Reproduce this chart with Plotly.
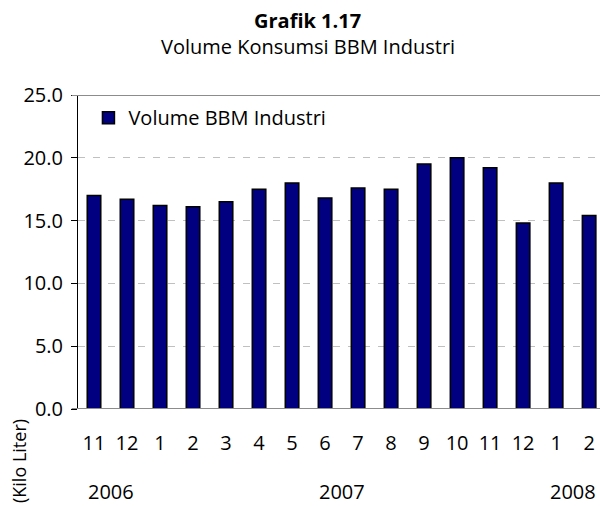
import plotly.graph_objects as go

# Monthly industrial fuel consumption, Nov 2006 - Feb 2008
months = ["11", "12", "1", "2", "3", "4", "5", "6", "7", "8", "9", "10", "11", "12", "1", "2"]
years = ["2006", "2007", "2008"]
year_centers = [0.5, 7.5, 14.5]
volume = [17.0, 16.7, 16.2, 16.1, 16.5, 17.5, 18.0, 16.8, 17.6, 17.5, 19.5, 20.0, 19.2, 14.8, 18.0, 15.4]
series_name = "Volume BBM Industri"
chart_title = "Grafik 1.17"
chart_subtitle = "Volume Konsumsi BBM Industri"
unit_label = "(Kilo Liter)"

FONT = "Open Sans"
FS = 20
x_pos = list(range(len(months)))

fig = go.Figure()
fig.add_trace(go.Bar(
    x=x_pos, y=volume, name=series_name, width=0.41,
    marker=dict(color="#000080", line=dict(color="#000000", width=1.5)),
    showlegend=True,
))

# title block above the plot
fig.add_annotation(x=0.44, y=1.2357, xref="paper", yref="paper", text=f"<b>{chart_title}</b>",
                   showarrow=False, xanchor="center", yanchor="middle",
                   font=dict(family=FONT, size=FS, color="#000000"))
fig.add_annotation(x=0.44, y=1.156, xref="paper", yref="paper", text=chart_subtitle,
                   showarrow=False, xanchor="center", yanchor="middle",
                   font=dict(family=FONT, size=FS, color="#000000"))

# year labels beneath the month ticks
for yr, xc in zip(years, year_centers):
    fig.add_annotation(x=xc, y=0, xref="x", yref="y", text=yr, showarrow=False,
                       yshift=-82, font=dict(family=FONT, size=FS, color="#000000"))

# unit label, running up the lower left corner
fig.add_annotation(x=0, y=0, xref="paper", yref="y", text=unit_label, showarrow=False,
                   textangle=-90, xshift=-73, yshift=-52,
                   font=dict(family=FONT, size=18, color="#000000"))

# frame lines at the top of the range and along zero
for yv in (0, 25):
    fig.add_shape(type="line", xref="paper", yref="y", x0=-0.012, x1=1, y0=yv, y1=yv,
                  line=dict(color="#8c8c8c", width=2), layer="above")

fig.update_layout(
    width=600, height=506,
    margin=dict(l=78, r=0, t=95, b=97),
    paper_bgcolor="white", plot_bgcolor="white",
    font=dict(family=FONT, size=FS, color="#000000"),
    bargap=0.59,
    legend=dict(x=0.02, y=0.99, xanchor="left", yanchor="top", bgcolor="rgba(0,0,0,0)",
                font=dict(family=FONT, size=FS)),
    xaxis=dict(range=[-0.485, 15.33], tickmode="array", tickvals=x_pos, ticktext=months,
               showgrid=False, zeroline=False, showline=False, ticks="",
               ticklabelstandoff=20, tickfont=dict(family=FONT, size=FS)),
    yaxis=dict(range=[0, 25], tickvals=[0, 5, 10, 15, 20, 25], tickformat=".1f",
               showgrid=True, gridcolor="#c0c0c0", gridwidth=1, griddash="7px,8px",
               zeroline=False, showline=True, linecolor="#000000", linewidth=1,
               ticks="outside", ticklen=6, tickcolor="#000000",
               ticklabelstandoff=4, tickfont=dict(family=FONT, size=FS)),
)

fig.write_html("out.html")
